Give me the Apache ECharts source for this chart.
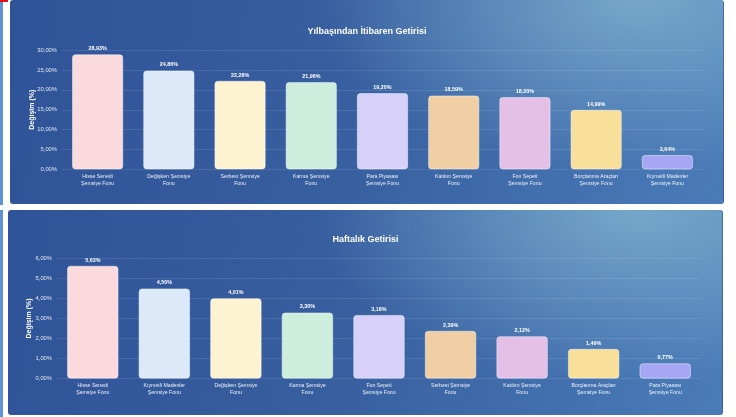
<!DOCTYPE html>
<html>
<head>
<meta charset="utf-8">
<script src="https://cdn.jsdelivr.net/npm/echarts@6/dist/echarts.min.js"></script>
<style>
  html, body { margin: 0; padding: 0; background: #ffffff; width: 736px; height: 417px; overflow: hidden; }
  .stripe { position: absolute; left: 0; width: 3px; background: #5f93d2; }
  .redmark { position: absolute; left: 0; top: 0; width: 8px; height: 2px; background: #e3101a; }
  .panel {
    position: absolute;
    border-radius: 3px;
    background:
      radial-gradient(ellipse 45% 85% at 88% 0%, rgba(130,180,208,0.8) 0%, rgba(130,180,208,0) 100%),
      linear-gradient(100deg, #2f5398 0%, #375e9f 45%, #4a7cb8 100%);
    box-shadow: inset -1px 0 0 rgba(40,80,140,0.6);
  }
  .chart { position: absolute; left: 0; top: 0; width: 100%; height: 100%; }
</style>
</head>
<body>
<div class="stripe" style="top:0;height:205px"></div>
<div class="stripe" style="top:210px;height:207px"></div>
<div class="redmark"></div>
<div class="panel" style="left:10px;top:0;width:714px;height:204px"><div id="c1" class="chart"></div></div>
<div class="panel" style="left:8px;top:210px;width:715px;height:205px"><div id="c2" class="chart"></div></div>
<script>
const ytdTitle = 'Yılbaşından İtibaren Getirisi';
const ytdCategories = [
  'Hisse Senedi\nŞemsiye Fonu',
  'Değişken Şemsiye\nFonu',
  'Serbest Şemsiye\nFonu',
  'Karma Şemsiye\nFonu',
  'Para Piyasası\nŞemsiye Fonu',
  'Katılım Şemsiye\nFonu',
  'Fon Sepeti\nŞemsiye Fonu',
  'Borçlanma Araçları\nŞemsiye Fonu',
  'Kıymetli Madenler\nŞemsiye Fonu'
];
const ytdValues = [28.93, 24.86, 22.28, 21.96, 19.20, 18.59, 18.20, 14.99, 3.64];

const weeklyTitle = 'Haftalık Getirisi';
const weeklyCategories = [
  'Hisse Senedi\nŞemsiye Fonu',
  'Kıymetli Madenler\nŞemsiye Fonu',
  'Değişken Şemsiye\nFonu',
  'Karma Şemsiye\nFonu',
  'Fon Sepeti\nŞemsiye Fonu',
  'Serbest Şemsiye\nFonu',
  'Katılım Şemsiye\nFonu',
  'Borçlanma Araçları\nŞemsiye Fonu',
  'Para Piyasası\nŞemsiye Fonu'
];
const weeklyValues = [5.63, 4.50, 4.01, 3.30, 3.18, 2.39, 2.12, 1.49, 0.77];

const yAxisName = 'Değişim (%)';
const barColors = ['#fadadc', '#dce9f9', '#fdf3d0', '#cdeedc', '#d7d0f9', '#efcfa3', '#e4bfe6', '#f8df9a', '#a6a6f5'];

const FONT = '"Liberation Sans", Arial, sans-serif';
const pct = v => Number(v).toFixed(2).replace('.', ',') + '%';

function makeOption(title, cats, vals, max, interval, grid, titleTop, nameGap) {
  return {
    backgroundColor: 'transparent',
    animation: false,
    textStyle: { fontFamily: FONT },
    title: {
      text: title, left: 'center', top: titleTop,
      textStyle: { color: '#ffffff', fontSize: 9, fontWeight: 'bold', fontFamily: FONT }
    },
    grid: grid,
    xAxis: {
      type: 'category',
      data: cats,
      axisLine: { show: false },
      axisTick: { show: false },
      axisLabel: { color: 'rgba(255,255,255,0.9)', fontSize: 5.2, lineHeight: 6.5, margin: 4, interval: 0, fontFamily: FONT }
    },
    yAxis: {
      type: 'value',
      min: 0, max: max, interval: interval,
      name: yAxisName,
      nameLocation: 'middle',
      nameGap: nameGap,
      nameMoveOverlap: false,
      nameTextStyle: { color: '#ffffff', fontSize: 7, fontWeight: 'bold', fontFamily: FONT },
      axisLine: { show: false },
      axisTick: { show: false },
      splitLine: { lineStyle: { color: 'rgba(255,255,255,0.1)', width: 1 } },
      axisLabel: { color: 'rgba(255,255,255,0.85)', fontSize: 5.8, margin: 5, formatter: pct, fontFamily: FONT }
    },
    series: [{
      type: 'bar',
      data: vals,
      barWidth: '72%',
      colorBy: 'data',
      color: barColors,
      itemStyle: { borderRadius: 3, borderColor: 'rgba(255,255,255,0.45)', borderWidth: 1 },
      label: {
        show: true, position: 'top', distance: 3,
        color: '#ffffff', fontSize: 5.4, fontWeight: 'bold', fontFamily: FONT,
        formatter: p => pct(p.value)
      }
    }]
  };
}

const c1 = echarts.init(document.getElementById('c1'));
c1.setOption(makeOption(ytdTitle, ytdCategories, ytdValues, 30, 5,
  { left: 52, right: 21, top: 50, bottom: 34.5 }, 22, 26));

const c2 = echarts.init(document.getElementById('c2'));
c2.setOption(makeOption(weeklyTitle, weeklyCategories, weeklyValues, 6, 1,
  { left: 49, right: 22, top: 48.3, bottom: 36.3 }, 20.5, 24));
</script>
</body>
</html>
